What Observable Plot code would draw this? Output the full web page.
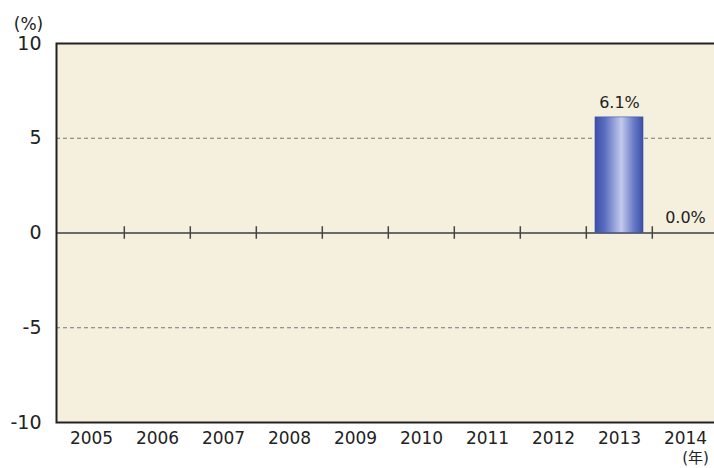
<!DOCTYPE html>
<html><head><meta charset="utf-8">
<script src="https://cdn.jsdelivr.net/npm/d3@7"></script>
<script src="https://cdn.jsdelivr.net/npm/@observablehq/plot@0.6"></script>
<style>
html,body{margin:0;padding:0;background:#fff;overflow:hidden;width:714px;height:468px;}
#chart{position:relative;width:714px;height:468px;overflow:hidden;}
#chart svg{max-width:none !important;width:720px !important;}
</style></head>
<body><div id="chart"></div>
<script>
const years = ["2005","2006","2007","2008","2009","2010","2011","2012","2013","2014"];
const values = [null,null,null,null,null,null,null,null,6.1,0.0];
const yTicks = [-10,-5,0,5,10];
const gridDashed = [-5,5];
const yUnit = "(%)";
const xUnit = "(年)";

const data = years.map((y,i)=>({year:y, value:values[i]}));
const labeled = data.filter(d=>d.value!==null);
const boundaries = years.slice(1);

const W = 720, H = 468;
const mL = 56, mR = 0, mT = 43, mB = 46;
const bw = (W - mL - mR) / years.length;
const font = "'DejaVu Sans', 'Noto Sans CJK JP', sans-serif";

const plot = Plot.plot({
  width: W, height: H,
  marginLeft: mL, marginRight: mR, marginTop: mT, marginBottom: mB,
  style: {fontFamily: font, background: "#fff", color: "#222", maxWidth: "none"},
  x: {domain: years, padding: 0, label: null},
  y: {domain: [-10,10], label: null},
  marks: [
    Plot.frame({fill: "#F4F0DD", stroke: null}),
    Plot.ruleY(gridDashed, {stroke: "#777", strokeDasharray: "4,3", strokeWidth: 1}),
    Plot.ruleY([0], {stroke: "#6a6a6a", strokeWidth: 2}),
    Plot.ruleX(boundaries, {x: d=>d, y1: -0.33, y2: 0.33, dx: -bw/2, stroke: "#444", strokeWidth: 1.5}),
    Plot.barY(labeled.filter(d=>d.value>0), {x: "year", y: "value", fill: "url(#barGrad)", insetLeft: 9, insetRight: 9, stroke: "#3a4ea0", strokeWidth: 0.6}),
    Plot.text(labeled, {x: "year", y: "value", text: d=>d.value.toFixed(1)+"%", dy: -15, fontSize: 16, fill: "#222"}),
    Plot.frame({stroke: "#222", strokeWidth: 2}),
    Plot.axisX({tickSize: 0, tickPadding: 9, fontSize: 17, fill: "#222", label: null}),
    Plot.axisY({ticks: yTicks, tickSize: 0, tickPadding: 15, fontSize: 19, fill: "#222", label: null, tickFormat: d=>String(d)}),
    Plot.text([yUnit], {frameAnchor: "top-left", dx: -28, dy: -26, fontSize: 17, textAnchor: "middle", fill: "#222"}),
    Plot.text([xUnit], {x: ()=>years[years.length-1], y: ()=>-10, dx: 10, dy: 36, fontSize: 15, fill: "#222"})
  ]
});

const defs = d3.select(plot).insert("defs", ":first-child");
const g = defs.append("linearGradient").attr("id", "barGrad").attr("x1", "0%").attr("x2", "100%").attr("y1", "0%").attr("y2", "0%");
[["0%","#3A4FA8"],["20%","#5a6dc0"],["55%","#C3C9EC"],["80%","#6a7cc8"],["100%","#3A4FA8"]].forEach(([o,c])=>g.append("stop").attr("offset",o).attr("stop-color",c));

document.getElementById("chart").appendChild(plot);
</script></body></html>
